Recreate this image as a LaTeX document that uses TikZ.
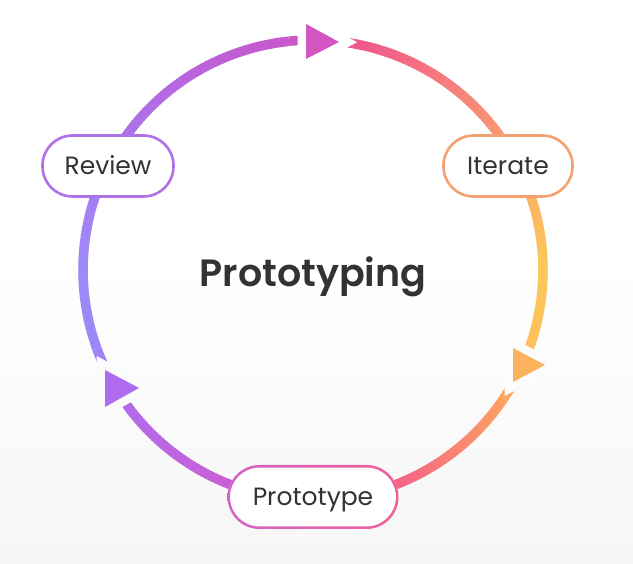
\documentclass[tikz,border=0pt]{standalone}
\usepackage{fontspec}
\setmainfont{Poppins}
\newfontfamily\titlefont{Poppins SemiBold}
\definecolor{txt}{HTML}{333333}
\definecolor{bgbot}{HTML}{F6F6F6}
\definecolor{revc}{HTML}{B070E8}
\definecolor{itc}{HTML}{F5A070}
\definecolor{protL}{HTML}{D462C8}
\definecolor{protR}{HTML}{F0609A}
\definecolor{triTop}{HTML}{D355BF}
\definecolor{triRight}{HTML}{FDB25E}
\definecolor{triLeft}{HTML}{B06CEE}
% ring colour stops
\definecolor{s1}{HTML}{B06CEE}
\definecolor{s2}{HTML}{C263DC}
\definecolor{s3}{HTML}{D058C8}
\definecolor{s4}{HTML}{E657A8}
\definecolor{s5}{HTML}{F4568F}
\definecolor{s6}{HTML}{F97E76}
\definecolor{s7}{HTML}{FCA262}
\definecolor{s8}{HTML}{FDC05C}
\definecolor{s9}{HTML}{FDC85A}
\definecolor{s10}{HTML}{FBB264}
\definecolor{s11}{HTML}{F89A72}
\definecolor{s12}{HTML}{F67C7E}
\definecolor{s13}{HTML}{F0568E}
\definecolor{s14}{HTML}{C858CC}
\definecolor{s15}{HTML}{B866DE}
\definecolor{s16}{HTML}{A878F0}
\definecolor{s17}{HTML}{9E8AF8}
\definecolor{s18}{HTML}{9E86F6}
\colorlet{haloL}{white!59!bgbot}
\colorlet{haloR}{white!66!bgbot}
\newcommand\ringR{230}
\newcommand\garc[4]{%
  \foreach \a in {#1,...,#2}{%
    \pgfmathsetmacro\sa{max(#1,\a-0.7)}%
    \pgfmathsetmacro\ea{min(#2,\a+0.7)}%
    \pgfmathtruncatemacro\pp{(\a-(#1))/((#2)-(#1))*100}%
    \colorlet{segc}{#4!\pp!#3}%
    \draw[ring, draw=segc] (ctr) ++(\sa:\ringR) arc[start angle=\sa, end angle=\ea, radius=\ringR];
  }}
\begin{document}
\begin{tikzpicture}[x=1pt,y=1pt,
  ring/.style={line width=9.5pt, line cap=butt},
  pill/.style={draw, line width=2.6pt, fill=white, rounded corners=30pt,
    minimum height=61pt, text height=17.6pt, text depth=0pt, inner sep=0pt,
    font=\fontsize{25}{30}\selectfont, text=txt},
  tri/.style={line width=17pt, line join=miter}]
\useasboundingbox (0,0) rectangle (633,564);
\fill[white] (0,0) rectangle (633,564);
\shade[top color=white, bottom color=bgbot] (0,0) rectangle (633,300);
\coordinate (ctr) at (313,294);
% gradient ring
\garc{-148}{-120}{s1}{s2}
\garc{-120}{-100}{s2}{s3}
\garc{-100}{-88}{s3}{s4}
\garc{-88}{-75}{s4}{s5}
\garc{-75}{-55}{s5}{s6}
\garc{-55}{-34}{s6}{s7}
\garc{-34}{-18}{s7}{s8}
\garc{-18}{0}{s8}{s9}
\garc{0}{20}{s9}{s10}
\garc{20}{35}{s10}{s11}
\garc{35}{55}{s11}{s12}
\garc{55}{80}{s12}{s13}
\garc{80}{96}{s13}{s14}
\garc{96}{125}{s14}{s15}
\garc{125}{153}{s15}{s16}
\garc{153}{180}{s16}{s17}
\garc{180}{200}{s17}{s18}
\garc{200}{212}{s18}{s1}
% triangles (halo then fill)
\draw[tri, draw=white] (306,540) -- (306,505) -- (339,522) -- cycle;
\fill[triTop] (306,540) -- (306,505) -- (339,522) -- cycle;
\draw[tri, draw=haloR] (513,216) -- (513,182) -- (545,199) -- cycle;
\fill[triRight] (513,216) -- (513,182) -- (545,199) -- cycle;
\draw[tri, draw=haloL] (105,194) -- (105,157) -- (139,176) -- cycle;
\fill[triLeft] (105,194) -- (105,157) -- (139,176) -- cycle;
% step nodes
\node[pill, draw=revc, minimum width=131pt] (review) at (108,398) {Review};
\node[pill, draw=itc, minimum width=129pt] (iterate) at (508,398) {Iterate};
\node[pill, draw=none, left color=protL, right color=protR, minimum width=171pt, minimum height=64pt, rounded corners=32pt] (protoring) at (313,67) {};
\node[pill, draw=none, minimum width=165.8pt, minimum height=58.8pt, rounded corners=29.4pt] (proto) at (313,67) {Prototype};
% title
\node[anchor=base, text=txt, font=\fontsize{38}{42}\selectfont\titlefont, inner sep=0pt] (title) at (313,277) {Prototyping};
\end{tikzpicture}
\end{document}
